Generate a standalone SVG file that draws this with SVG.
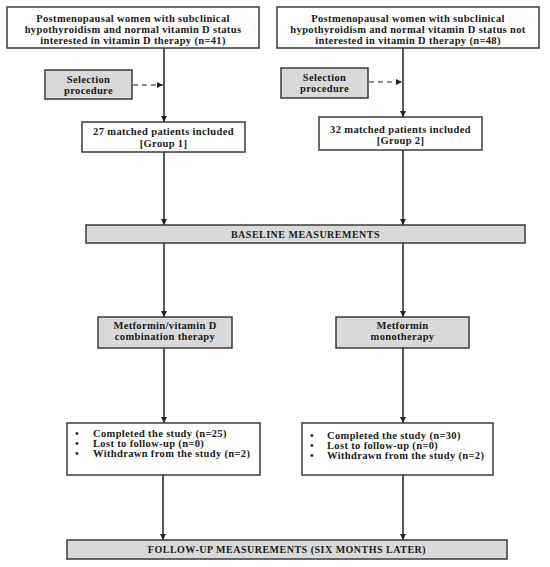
<svg xmlns="http://www.w3.org/2000/svg" width="550" height="567" viewBox="0 0 550 567">
<defs>
<marker id="ah" viewBox="0 0 6 6" refX="6" refY="3" markerWidth="6" markerHeight="6" markerUnits="userSpaceOnUse" orient="auto">
<path d="M0,0 L6,3 L0,6 Z" fill="#222"/>
</marker>
<style>
.box{fill:#fff;stroke:#3a3a3a;stroke-width:1.5}
.gbox{fill:#d9d9d9;stroke:#3a3a3a;stroke-width:1.5}
text{font-family:"Liberation Serif","DejaVu Serif",serif;font-weight:bold;font-size:10.5px;letter-spacing:0.35px;fill:#1a1a1a}
.c{text-anchor:middle}
.cap{font-size:10px;letter-spacing:0.5px}
.ln{stroke:#222;stroke-width:1.5;fill:none;marker-end:url(#ah)}
.dl{stroke:#222;stroke-width:1.2;fill:none;stroke-dasharray:5,4;marker-end:url(#ah)}
</style>
</defs>
<rect width="550" height="567" fill="#fff"/>
<g id="connectors">
<line class="ln" x1="164" y1="48" x2="164" y2="122"/>
<line class="ln" x1="403" y1="48" x2="403" y2="117"/>
<line class="dl" x1="133" y1="85" x2="163" y2="85"/>
<line class="dl" x1="369" y1="82" x2="402" y2="82"/>
<line class="ln" x1="164" y1="152" x2="164" y2="225"/>
<line class="ln" x1="403" y1="150" x2="403" y2="225"/>
<line class="ln" x1="164" y1="243" x2="164" y2="317"/>
<line class="ln" x1="403" y1="243" x2="403" y2="317"/>
<line class="ln" x1="164" y1="348" x2="164" y2="423"/>
<line class="ln" x1="403" y1="348" x2="403" y2="423"/>
<line class="ln" x1="163" y1="475" x2="163" y2="540"/>
<line class="ln" x1="403" y1="475" x2="403" y2="540"/>
</g>
<g id="pop1">
<rect class="box" x="7" y="7" width="252" height="41"/>
<text class="c" x="133" y="22">Postmenopausal women with subclinical</text>
<text class="c" x="133" y="33">hypothyroidism and normal vitamin D status</text>
<text class="c" x="133" y="44">interested in vitamin D therapy (n=41)</text>
</g>
<g id="pop2">
<rect class="box" x="277" y="7" width="262" height="41"/>
<text class="c" x="408" y="22">Postmenopausal women with subclinical</text>
<text class="c" x="408" y="33">hypothyroidism and normal vitamin D status not</text>
<text class="c" x="408" y="44">interested in vitamin D therapy (n=48)</text>
</g>
<g id="sel1">
<rect class="gbox" x="45" y="70" width="87" height="29"/>
<text class="c" x="88.5" y="83">Selection</text>
<text class="c" x="88.5" y="94">procedure</text>
</g>
<g id="sel2">
<rect class="gbox" x="281" y="68" width="87" height="30"/>
<text class="c" x="324.5" y="81">Selection</text>
<text class="c" x="324.5" y="92">procedure</text>
</g>
<g id="group1">
<rect class="box" x="82" y="122" width="163" height="30"/>
<text class="c" x="163.5" y="135">27 matched patients included</text>
<text class="c" x="163.5" y="147">[Group 1]</text>
</g>
<g id="group2">
<rect class="box" x="319" y="117" width="163" height="33"/>
<text class="c" x="400.5" y="133">32 matched patients included</text>
<text class="c" x="400.5" y="144">[Group 2]</text>
</g>
<g id="baseline">
<rect class="gbox" x="86" y="225" width="439" height="18"/>
<text class="c cap" x="305.5" y="237.5">BASELINE MEASUREMENTS</text>
</g>
<g id="therapy1">
<rect class="gbox" x="98" y="317" width="134" height="31"/>
<text class="c" x="165" y="329">Metformin/vitamin D</text>
<text class="c" x="165" y="340">combination therapy</text>
</g>
<g id="therapy2">
<rect class="gbox" x="336" y="317" width="133" height="31"/>
<text class="c" x="402.5" y="329">Metformin</text>
<text class="c" x="402.5" y="340">monotherapy</text>
</g>
<g id="outcome1">
<rect class="box" x="67" y="423" width="193" height="52"/>
<text x="75" y="437">•</text><text x="93" y="437">Completed the study (n=25)</text>
<text x="75" y="447">•</text><text x="93" y="447">Lost to follow-up (n=0)</text>
<text x="75" y="457">•</text><text x="93" y="457">Withdrawn from the study (n=2)</text>
</g>
<g id="outcome2">
<rect class="box" x="302" y="423" width="191" height="52"/>
<text x="310" y="439">•</text><text x="327" y="439">Completed the study (n=30)</text>
<text x="310" y="449">•</text><text x="327" y="449">Lost to follow-up (n=0)</text>
<text x="310" y="459">•</text><text x="327" y="459">Withdrawn from the study (n=2)</text>
</g>
<g id="followup">
<rect class="gbox" x="67" y="540" width="440" height="19"/>
<text class="c cap" x="287" y="553">FOLLOW-UP MEASUREMENTS (SIX MONTHS LATER)</text>
</g>
</svg>
